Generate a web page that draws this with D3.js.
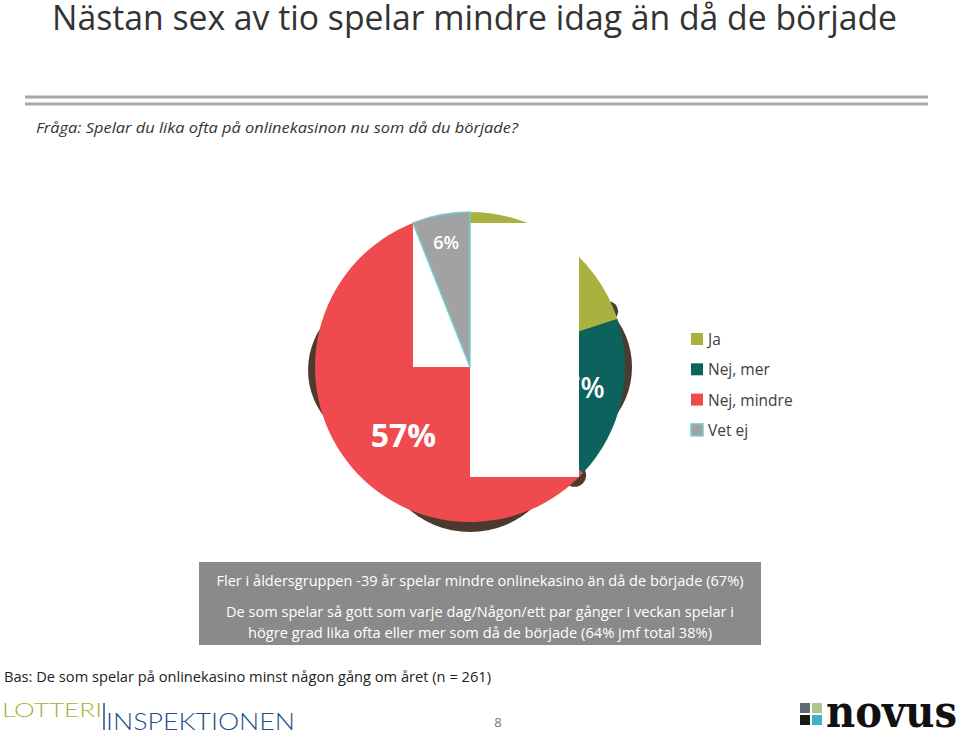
<!DOCTYPE html>
<html>
<head>
<meta charset="utf-8">
<script src="https://cdn.jsdelivr.net/npm/d3@7"></script>
<style>
  html, body { margin: 0; padding: 0; background: #fff; }
  svg { display: block; }
</style>
</head>
<body>
<svg id="chart" width="960" height="735"></svg>
<script>
// ---------- DATA ----------
const categories = ["Ja", "Nej, mer", "Nej, mindre", "Vet ej"];
const values = [20, 17, 57, 6];
const valueLabels = ["20%", "17%", "57%", "6%"];

const titleText = "Nästan sex av tio spelar mindre idag än då de började";
const questionText = "Fråga: Spelar du lika ofta på onlinekasinon nu som då du började?";
const noteLines = [
  "Fler i åldersgruppen -39 år spelar mindre onlinekasino än då de började (67%)",
  "De som spelar så gott som varje dag/Någon/ett par gånger i veckan spelar i",
  "högre grad lika ofta eller mer som då de började (64% jmf total 38%)"
];
const baseText = "Bas: De som spelar på onlinekasino minst någon gång om året  (n = 261)";
const pageNumber = "8";

// ---------- STYLE ----------
const colors = ["#a9b13f", "#0c625d", "#ef4b4e", "#a2a2a2"];
const font = "'Open Sans', 'Noto Sans', sans-serif";
const labelStyle = [
  { r: 0.60, shift: 0,   size: 26, weight: 700 },
  { r: 0.70, shift: -2,  size: 28, weight: 600 },
  { r: 0.61, shift: -11, size: 32, weight: 700 },
  { r: 0.82, shift: 0,   size: 18, weight: 600 }
];
// visible pieces of the pie's dark rim shadow: centre angle, half width (deg), thickness (px)
const shadowPieces = [
  { angle: 268, half: 16, thick: 7 },
  { angle: 180, half: 23, thick: 10 },
  { angle: 90,  half: 17, thick: 7 },
  { angle: 68,  half: 3,  thick: 4 },
  { angle: 136, half: 4,  thick: 7 }
];

const svg = d3.select("#chart");

// Title
svg.append("text")
  .attr("x", 52).attr("y", 30)
  .attr("font-family", font).attr("font-size", 35)
  .attr("fill", "#333")
  .attr("textLength", 845).attr("lengthAdjust", "spacingAndGlyphs")
  .text(titleText);

// Double rule
[97, 104].forEach(y => {
  svg.append("line").attr("x1", 25).attr("x2", 928).attr("y1", y).attr("y2", y)
    .attr("stroke", "#a8a8a8").attr("stroke-width", 3);
});

// Question
svg.append("text")
  .attr("x", 36).attr("y", 133)
  .attr("font-family", font).attr("font-size", 15).attr("font-style", "italic")
  .attr("fill", "#333")
  .attr("textLength", 482).attr("lengthAdjust", "spacingAndGlyphs")
  .text(questionText);

// ---------- PIE ----------
const cx = 470, cy = 367, R = 155;
const data = categories.map((c, i) => ({ cat: c, value: values[i], label: valueLabels[i], i }));
const pie = d3.pie().sort(null).value(d => d.value);
const arcs = pie(data);
const arc = d3.arc().innerRadius(0).outerRadius(R);

// shadow lenses (behind the pie): circles offset outward so they poke out as tapered crescents
const shadowG = svg.append("g").attr("transform", `translate(${cx},${cy})`);
shadowPieces.forEach(p => {
  const phi = p.half * Math.PI / 180;
  const d = (2 * R * p.thick + p.thick * p.thick) / (2 * (R + p.thick - R * Math.cos(phi)));
  const r2 = R + p.thick - d;
  const a = p.angle * Math.PI / 180;
  shadowG.append("circle")
    .attr("cx", d * Math.sin(a)).attr("cy", -d * Math.cos(a))
    .attr("r", r2).attr("fill", "#4b3b2e");
});

const g = svg.append("g").attr("transform", `translate(${cx},${cy})`);

const slices = g.selectAll("path.slice").data(arcs).join("path")
  .attr("class", "slice")
  .attr("d", arc)
  .attr("fill", (d, i) => colors[i])
  .attr("stroke", (d, i) => i === 3 ? "#78cdd1" : "none")
  .attr("stroke-width", (d, i) => i === 3 ? 1.5 : 0);

// white label boxes that occlude part of the pie
g.append("rect").attr("x", -57).attr("y", -144).attr("width", 57).attr("height", 144).attr("fill", "#fff");
g.append("rect").attr("x", 0).attr("y", -144).attr("width", 109).attr("height", 254).attr("fill", "#fff");

// gray slice sits above the box
slices.filter((d, i) => i === 3).raise();

// labels
g.selectAll("text.lbl").data(arcs).join("text")
  .attr("class", "lbl")
  .each(function(d, i) {
    const s = labelStyle[i];
    const a = (d.startAngle + d.endAngle) / 2 + s.shift * Math.PI / 180;
    const r = s.r * R;
    d3.select(this)
      .attr("x", r * Math.sin(a))
      .attr("y", -r * Math.cos(a))
      .attr("font-size", s.size)
      .attr("font-weight", s.weight);
  })
  .attr("text-anchor", "middle")
  .attr("dominant-baseline", "central")
  .attr("font-family", font)
  .attr("fill", "#fff")
  .text(d => d.data.label);

// ---------- LEGEND ----------
const legend = svg.append("g").attr("transform", "translate(691,339)");
const li = legend.selectAll("g").data(categories).join("g")
  .attr("transform", (d, i) => `translate(0,${i * 30.3})`);
li.append("rect").attr("x", 0).attr("y", -6).attr("width", 12).attr("height", 12)
  .attr("fill", (d, i) => colors[i])
  .attr("stroke", (d, i) => i === 3 ? "#78cdd1" : "none")
  .attr("stroke-width", 1.5);
li.append("text").attr("x", 17).attr("y", 0)
  .attr("dominant-baseline", "central")
  .attr("font-family", font).attr("font-size", 15.5)
  .attr("fill", "#404040")
  .text(d => d);

// ---------- NOTE BOX ----------
svg.append("rect").attr("x", 199).attr("y", 562).attr("width", 562).attr("height", 83).attr("fill", "#8a8a8a");
const noteY = [580, 611, 632];
const noteW = [527, 508, 464];
noteLines.forEach((t, i) => {
  svg.append("text").attr("x", 480).attr("y", noteY[i])
    .attr("text-anchor", "middle").attr("dominant-baseline", "central")
    .attr("font-family", font).attr("font-size", 14).attr("fill", "#fff")
    .attr("textLength", noteW[i]).attr("lengthAdjust", "spacingAndGlyphs")
    .text(t);
});

// Base text
svg.append("text").attr("x", 4).attr("y", 676)
  .attr("dominant-baseline", "central")
  .attr("font-family", font).attr("font-size", 14.5).attr("fill", "#222")
  .attr("textLength", 487).attr("lengthAdjust", "spacingAndGlyphs")
  .text(baseText);

// ---------- FOOTER LOGOS ----------
svg.append("text").attr("x", 2).attr("y", 717)
  .attr("font-family", "Lato, 'Open Sans', sans-serif").attr("font-weight", 300)
  .attr("font-size", 20).attr("fill", "#a8b03c")
  .attr("textLength", 100).attr("lengthAdjust", "spacingAndGlyphs")
  .text("LOTTERI");
svg.append("line").attr("x1", 104).attr("x2", 104).attr("y1", 703).attr("y2", 730)
  .attr("stroke", "#1f4e8c").attr("stroke-width", 1.5);
svg.append("text").attr("x", 106).attr("y", 730)
  .attr("font-family", "Lato, 'Open Sans', sans-serif").attr("font-weight", 300)
  .attr("font-size", 24).attr("fill", "#1f4e8c")
  .attr("textLength", 189).attr("lengthAdjust", "spacingAndGlyphs")
  .text("INSPEKTIONEN");

svg.append("text").attr("x", 498).attr("y", 727)
  .attr("text-anchor", "middle")
  .attr("font-family", font).attr("font-size", 13).attr("fill", "#777")
  .text(pageNumber);

// Novus logo
const sq = [["#5d6b73", 0, 0], ["#a9c98c", 12, 0], ["#1a1a1a", 0, 12], ["#3cb4c4", 12, 12]];
sq.forEach(([c, x, y]) => {
  svg.append("rect").attr("x", 800 + x).attr("y", 703 + y).attr("width", 10).attr("height", 10).attr("fill", c);
});
svg.append("text").attr("x", 826).attr("y", 727)
  .attr("font-family", "'DejaVu Serif', serif").attr("font-weight", "bold")
  .attr("font-size", 44).attr("fill", "#111")
  .attr("textLength", 131).attr("lengthAdjust", "spacingAndGlyphs")
  .text("novus");
</script>
</body>
</html>
